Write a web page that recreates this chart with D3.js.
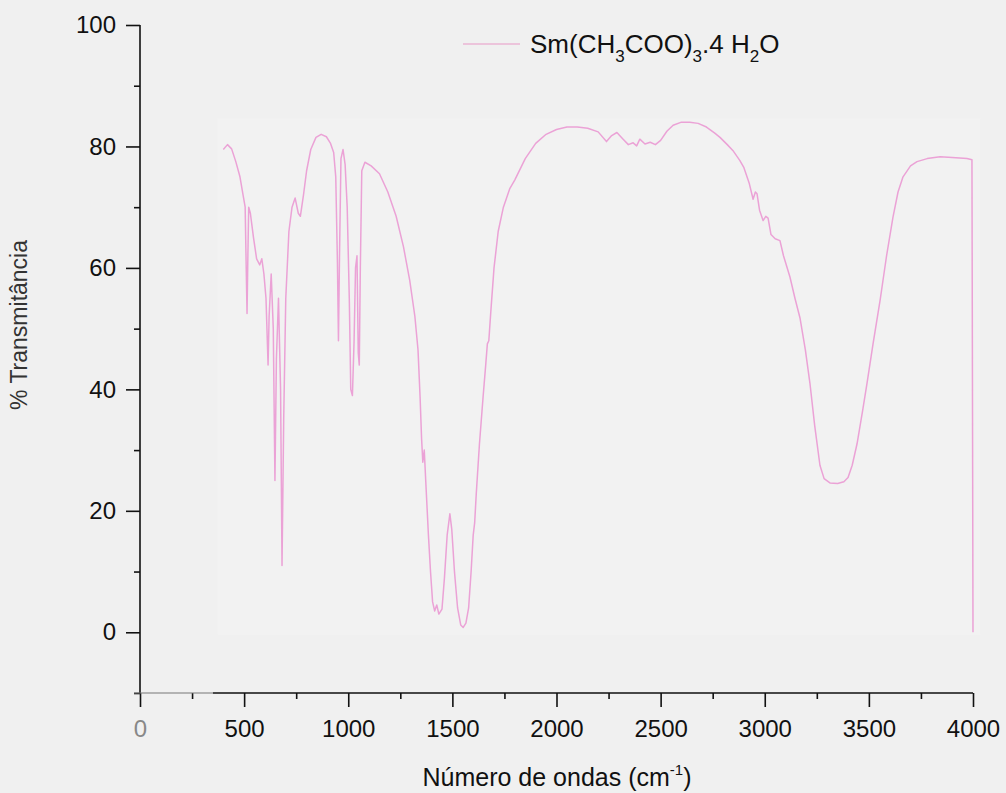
<!DOCTYPE html>
<html>
<head>
<meta charset="utf-8">
<script src="https://cdn.jsdelivr.net/npm/d3@7"></script>
<style>
  html, body { margin: 0; padding: 0; background: #f0f0f0; }
  svg { display: block; font-family: "Liberation Sans", Arial, sans-serif; }
</style>
</head>
<body>
<svg id="chart" width="1006" height="793"></svg>
<script>
// ---- data ----
const wavenumber = [400,420,440,460,480,495,505,510,514,518,522,530,545,560,575,585,595,605,615,620,630,640,648,655,665,675,682,690,700,715,730,745,760,770,785,800,820,845,870,895,915,930,940,948,953,958,965,975,985,995,1005,1012,1020,1028,1035,1042,1048,1053,1058,1065,1080,1110,1150,1190,1230,1265,1295,1320,1335,1345,1352,1358,1365,1372,1385,1395,1405,1415,1425,1435,1450,1462,1475,1488,1497,1510,1525,1540,1552,1565,1578,1590,1600,1607,1615,1630,1648,1660,1668,1675,1685,1700,1720,1745,1775,1800,1850,1900,1950,2000,2050,2100,2150,2200,2240,2265,2290,2320,2345,2368,2385,2400,2425,2450,2475,2500,2530,2560,2600,2640,2680,2720,2760,2785,2820,2850,2880,2900,2925,2944,2955,2963,2975,2992,3005,3016,3030,3050,3073,3090,3121,3145,3169,3195,3217,3240,3265,3285,3313,3350,3380,3400,3420,3443,3470,3491,3520,3554,3585,3616,3640,3664,3700,3731,3780,3842,3900,3971,3995,4000];
const transmittance = [79.5,80.3,79.6,77.5,75,72,70,60,52.5,62,70,69,65,61.5,60.5,61.5,59,55,44,52,59,50,25,45,55,40,11,35,55,66,70,71.5,69,68.5,72,76,79.5,81.5,82,81.6,80.5,79,75,61,48,62,78,79.5,77,70,55,40,39,48,60,62,46,44,60,76,77.4,76.8,75.5,72.5,68.5,63.5,58,52,46.5,38.7,32,28,30,25,16,10,5,3.5,4.5,3,3.8,9,16,19.5,17,10,4,1.2,0.8,1.5,4,10,16,18,23,31,39,44,47.5,48,53,60,66,70,73,74.5,78,80.5,82,82.8,83.2,83.2,83,82.4,80.8,81.8,82.3,81.2,80.3,80.6,80.1,81.2,80.4,80.7,80.3,81,82.5,83.5,84,84,83.8,83.2,82.2,81.5,80.3,79.2,77.7,76.5,74,71.3,72.5,72.2,69.5,67.8,68.5,68.2,65.5,64.8,64.5,62,58.5,55,51.8,46.5,41,34,27.5,25.3,24.6,24.5,24.8,25.5,27.5,31,36.5,41,47.5,54.7,62,68.4,72.5,75,76.8,77.5,78,78.3,78.2,78,77.8,0];
const xMajorTicks = [0,500,1000,1500,2000,2500,3000,3500,4000];
const xMinorTicks = [250,750,1250,1750,2250,2750,3250,3750];
const yMajorTicks = [0,20,40,60,80,100];
const yMinorTicks = [-10,10,30,50,70,90];
const seriesName = "Sm(CH3COO)3.4 H2O";

// ---- layout ----
const svg = d3.select("#chart");
const x = d3.scaleLinear().domain([0, 4000]).range([140, 973]);
const y = d3.scaleLinear().domain([-10, 100]).range([693, 25]);
const font = 24;

// faint plot frame
svg.append("rect")
  .attr("x", x(372)).attr("y", y(84.6))
  .attr("width", x(4035) - x(372)).attr("height", y(-0.4) - y(84.6))
  .attr("fill", "#f2f2f2");

// spectrum
const data = wavenumber.map((w, i) => [w, transmittance[i]]);
svg.append("path")
  .datum(data)
  .attr("fill", "none")
  .attr("stroke", "#eba2d6")
  .attr("stroke-width", 1.5)
  .attr("stroke-linejoin", "round")
  .attr("d", d3.line().x(d => x(d[0])).y(d => y(d[1])));

// y axis
const yAx = svg.append("g").attr("transform", `translate(${x(0)},0)`)
  .call(d3.axisLeft(y).tickValues(yMajorTicks).tickSize(14).tickPadding(10).tickFormat(d3.format("d")));
const yMin = svg.append("g").attr("transform", `translate(${x(0)},0)`)
  .call(d3.axisLeft(y).tickValues(yMinorTicks).tickSize(6).tickFormat(""));
yMin.select(".domain").remove();
yAx.select(".domain").attr("d", `M0,${y(100)}V${y(-10)}`);

// x axis
const xAx = svg.append("g").attr("transform", `translate(0,${y(-10)})`)
  .call(d3.axisBottom(x).tickValues(xMajorTicks).tickSize(14).tickPadding(13).tickFormat(d3.format("d")));
const xMin = svg.append("g").attr("transform", `translate(0,${y(-10)})`)
  .call(d3.axisBottom(x).tickValues(xMinorTicks).tickSize(6).tickFormat(""));
xMin.select(".domain").remove();
xAx.select(".domain").remove();
svg.append("line").attr("x1", x(350)).attr("x2", x(4000))
  .attr("y1", y(-10)).attr("y2", y(-10)).attr("stroke", "#111").attr("stroke-width", 1.6);
svg.append("line").attr("x1", x(0) - 6).attr("x2", x(350))
  .attr("y1", y(-10)).attr("y2", y(-10)).attr("stroke", "#777").attr("stroke-width", 1.2);

[yAx, yMin, xAx, xMin].forEach(g => {
  g.selectAll("line").attr("stroke", "#111").attr("stroke-width", 1.6);
  g.selectAll(".domain").attr("stroke", "#111").attr("stroke-width", 1.6);
  g.selectAll("text").attr("font-size", font).attr("fill", "#111")
    .attr("font-family", "Liberation Sans, Arial, sans-serif");
});
xAx.selectAll(".tick").filter(d => d === 0).select("text").attr("fill", "#888");

// axis titles
const xt = svg.append("text").attr("x", 557).attr("y", 786)
  .attr("text-anchor", "middle").attr("font-size", 25).attr("fill", "#111");
xt.append("tspan").text("Número de ondas (cm");
xt.append("tspan").attr("font-size", 15).attr("dy", -11).text("-1");
xt.append("tspan").attr("dy", 11).text(")");

svg.append("text")
  .attr("transform", "translate(27,325) rotate(-90)")
  .attr("text-anchor", "middle").attr("font-size", 23).attr("fill", "#333")
  .text("% Transmitância");

// legend
svg.append("line").attr("x1", 463).attr("x2", 520).attr("y1", 44).attr("y2", 44)
  .attr("stroke", "#ecc4db").attr("stroke-width", 2);
const lt = svg.append("text").attr("x", 530).attr("y", 53).attr("font-size", 26).attr("fill", "#111");
const parts = [["Sm(CH", 0], ["3", 1], ["COO)", 0], ["3", 1], [".4 H", 0], ["2", 1], ["O", 0]];
let prev = 0;
parts.forEach(([t, sub]) => {
  const dy = sub ? 9 : 0;
  lt.append("tspan").attr("dy", dy - prev).attr("font-size", sub ? 17 : 26).text(t);
  prev = dy;
});
</script>
</body>
</html>
